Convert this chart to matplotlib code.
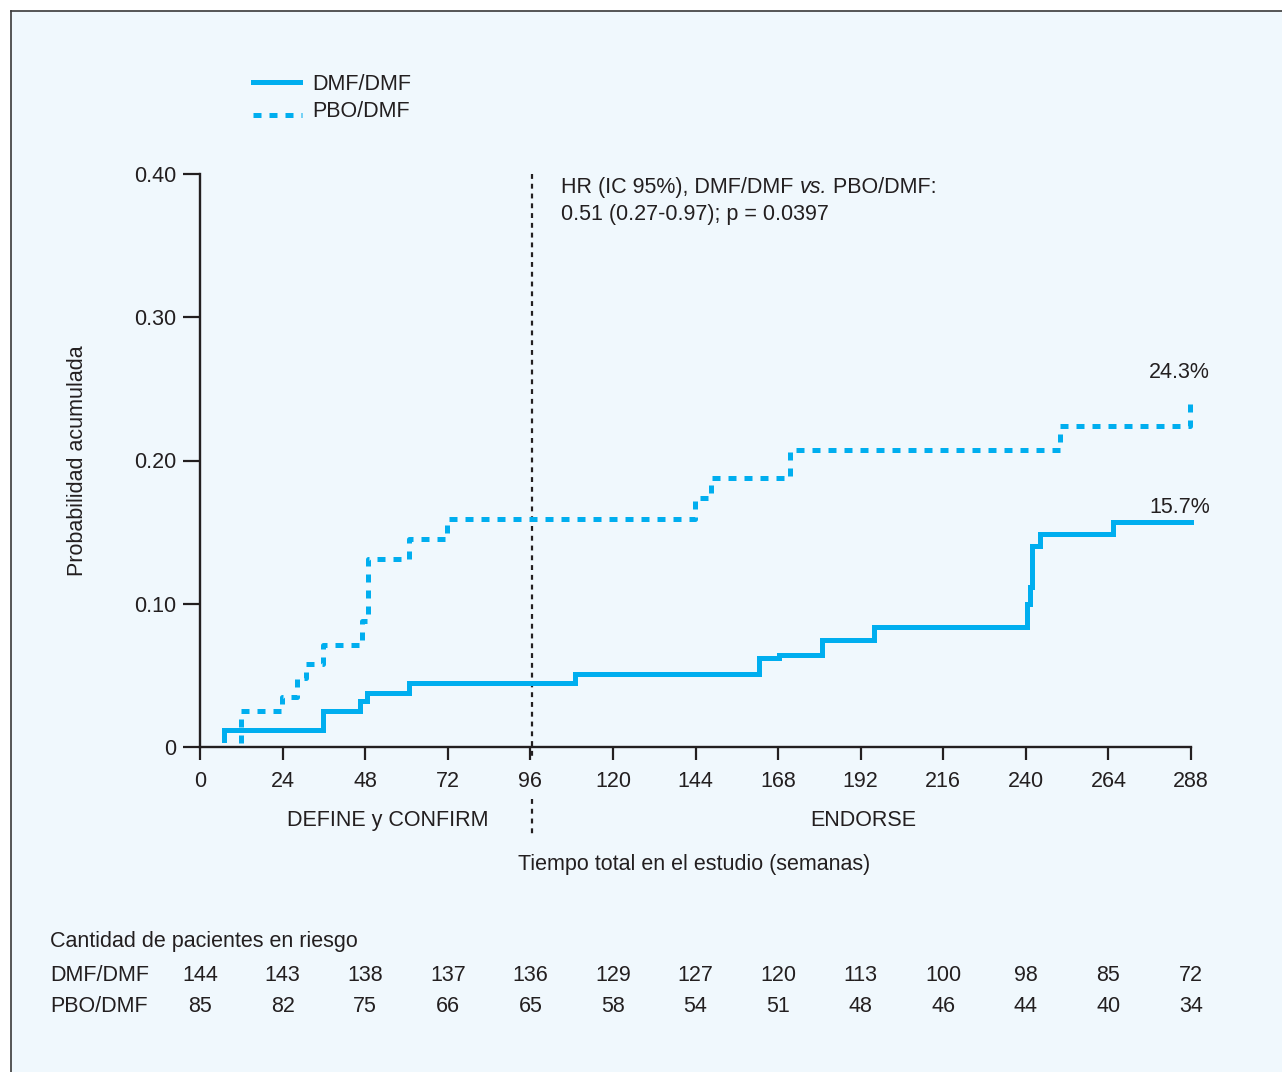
import matplotlib.pyplot as plt
from matplotlib.lines import Line2D
from matplotlib.patches import Rectangle
from matplotlib.transforms import blended_transform_factory
import numpy as np

plt.rcParams['font.family'] = ['Liberation Sans', 'DejaVu Sans']

# cumulative incidence step curves (week, probability)
dmf_weeks = [7, 7, 35.8, 46.5, 48.4, 60.8, 109, 162.5, 168.3, 180.7, 195.9,
             240.2, 241.2, 241.9, 244.1, 265.4, 288]
dmf_prob = [0.005, 0.012, 0.025, 0.032, 0.038, 0.045, 0.051, 0.062, 0.064,
            0.075, 0.084, 0.100, 0.112, 0.140, 0.149, 0.157, 0.157]

pbo_weeks = [11.8, 11.8, 23.9, 28.3, 30.8, 35.7, 47.0, 48.7, 60.8, 71.9,
             143.9, 148.5, 171.5, 250.0, 287.7, 288]
pbo_prob = [0.003, 0.025, 0.035, 0.048, 0.058, 0.071, 0.088, 0.131, 0.145,
            0.159, 0.174, 0.188, 0.207, 0.224, 0.243, 0.243]

x_ticks = list(range(0, 289, 24))
y_ticks = [0, 0.10, 0.20, 0.30, 0.40]
y_tick_labels = ['0', '0.10', '0.20', '0.30', '0.40']

at_risk_dmf = [144, 143, 138, 137, 136, 129, 127, 120, 113, 100, 98, 85, 72]
at_risk_pbo = [85, 82, 75, 66, 65, 58, 54, 51, 48, 46, 44, 40, 34]

blue = '#00aeef'
ink = '#231f20'
bg = '#f0f8fd'
fs = 15.5
W, H = 1282, 1072


def fy(px):
    # text row position from top of the figure, in pixels
    return 1 - (px + 2.5) / H


fig = plt.figure(figsize=(W / 100, H / 100), dpi=100)
fig.patch.set_facecolor('white')

# panel background with top/left rule
fig.add_artist(Rectangle((10.5 / W, 0), 1, 1 - 10.5 / H, transform=fig.transFigure,
                         facecolor=bg, edgecolor='none', zorder=-5))
fig.add_artist(Line2D([10.5 / W, 10.5 / W], [0, 1 - 10.5 / H], color='#3a3a3a', lw=1.2))
fig.add_artist(Line2D([10.5 / W, 1], [1 - 10.5 / H, 1 - 10.5 / H], color='#3a3a3a', lw=1.2))

ax = fig.add_axes([200 / W, 1 - 747 / H, 991 / W, 573 / H])
ax.set_facecolor('none')
ax.set_xlim(0, 288)
ax.set_ylim(0, 0.40)

ax.step(dmf_weeks, dmf_prob, where='post', color=blue, lw=3.6, solid_joinstyle='miter',
        clip_on=False, zorder=3)
ax.step(pbo_weeks, pbo_prob, where='post', color=blue, lw=3.6, dashes=(1.6, 1.6),
        clip_on=False, zorder=3)

# study boundary at week 96 (broken around its tick label)
tr = blended_transform_factory(ax.transData, ax.transAxes)
for y0, y1 in [(1.0, -13 / 573), (-52 / 573, -88 / 573)]:
    ax.plot([96.4, 96.4], [y0, y1], transform=tr, color=ink, lw=1.6,
            dashes=(2.2, 2.2), clip_on=False, zorder=2)

for s in ['top', 'right']:
    ax.spines[s].set_visible(False)
for s in ['left', 'bottom']:
    ax.spines[s].set_color(ink)
    ax.spines[s].set_linewidth(1.7)

ax.set_xticks(x_ticks)
ax.set_yticks(y_ticks)
ax.set_yticklabels(y_tick_labels)
ax.tick_params(axis='x', length=9.5, width=1.6, color=ink, labelcolor=ink,
               labelsize=fs, pad=8)
ax.tick_params(axis='y', length=12, width=1.6, color=ink, labelcolor=ink,
               labelsize=fs, pad=5)

ax.set_ylabel('Probabilidad acumulada', fontsize=fs, color=ink)
ax.yaxis.set_label_coords(-112 / 991, 0.5)

fig.text(388 / W, fy(818), 'DEFINE y CONFIRM', ha='center', va='center',
         fontsize=fs, color=ink)
fig.text(863 / W, fy(818), 'ENDORSE', ha='center', va='center', fontsize=fs, color=ink)
fig.text(694 / W, fy(862), 'Tiempo total en el estudio (semanas)',
         ha='center', va='center', fontsize=fs, color=ink)

# hazard ratio note, with "vs." in italics
t1 = fig.text(561 / W, fy(185), 'HR (IC 95%), DMF/DMF ', ha='left', va='center',
              fontsize=fs, color=ink)
t2 = ax.annotate('vs.', xy=(1, 0), xycoords=t1, ha='left', va='bottom',
                 fontsize=fs, color=ink, style='italic')
ax.annotate(' PBO/DMF:', xy=(1, 0), xycoords=t2, ha='left', va='bottom',
            fontsize=fs, color=ink)
fig.text(561 / W, fy(212), '0.51 (0.27-0.97); p = 0.0397', ha='left', va='center',
         fontsize=fs, color=ink)

ax.text(pbo_weeks[-1] + 5.5, pbo_prob[-1] + 0.011, f'{pbo_prob[-1] * 100:.1f}%',
        ha='right', va='bottom', fontsize=fs, color=ink)
ax.text(dmf_weeks[-1] + 5.5, dmf_prob[-1] + 0.003, f'{dmf_prob[-1] * 100:.1f}%',
        ha='right', va='bottom', fontsize=fs, color=ink)

# legend
fig.add_artist(Line2D([253 / W, 300 / W], [1 - 82 / H] * 2, color=blue, lw=3.6))
fig.add_artist(Line2D([253 / W, 302 / W], [1 - 115 / H] * 2, color=blue, lw=3.6,
                      dashes=(1.6, 1.6)))
fig.text(312 / W, fy(82), 'DMF/DMF', ha='left', va='center', fontsize=fs, color=ink)
fig.text(312 / W, fy(109), 'PBO/DMF', ha='left', va='center', fontsize=fs, color=ink)

# number at risk
fig.text(50 / W, fy(939), 'Cantidad de pacientes en riesgo', ha='left',
         va='center', fontsize=fs, color=ink)
fig.text(50 / W, fy(973), 'DMF/DMF', ha='left', va='center', fontsize=fs, color=ink)
fig.text(50 / W, fy(1004), 'PBO/DMF', ha='left', va='center', fontsize=fs, color=ink)
row_tr = blended_transform_factory(ax.transData, fig.transFigure)
for wk, a, b in zip(x_ticks, at_risk_dmf, at_risk_pbo):
    ax.text(wk, fy(973), str(a), transform=row_tr, ha='center', va='center',
            fontsize=fs, color=ink, clip_on=False)
    ax.text(wk, fy(1004), str(b), transform=row_tr, ha='center', va='center',
            fontsize=fs, color=ink, clip_on=False)

fig.savefig('out.png', dpi=100, facecolor=fig.get_facecolor())
